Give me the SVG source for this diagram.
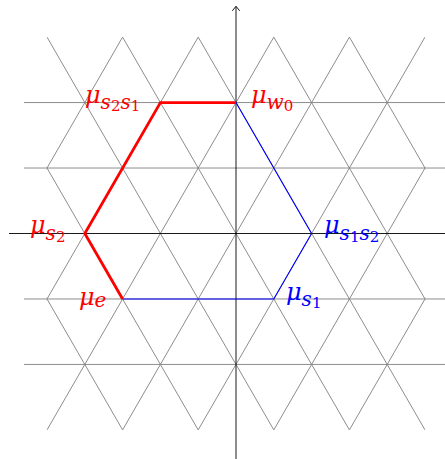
<svg xmlns="http://www.w3.org/2000/svg" width="445" height="459" viewBox="0 0 445 459">
<style>
.grid{stroke:#808080;stroke-width:0.9;fill:none}
.axis{stroke:#000;stroke-width:0.9;fill:none}
.red{fill:#ff0000}
.blue{fill:#0000ff}
.lbl{font-family:"DejaVu Serif","Liberation Serif",serif;font-style:italic}
.mu{font-size:24px}
.sub{font-size:20px;font-style:italic}
.dig{font-size:15px;font-style:normal}
</style>
<defs>
<clipPath id="lat"><rect x="46.8" y="36" width="378.4" height="395"/></clipPath>
</defs>
<g id="lattice">
<g clip-path="url(#lat)">
<path class="grid" d="M-104.2,37.1L122.6,429.9M-28.6,37.1L198.2,429.9M47,37.1L273.8,429.9M122.6,37.1L349.4,429.9M198.2,37.1L425,429.9M273.8,37.1L500.6,429.9M349.4,37.1L576.2,429.9"/>
<path class="grid" d="M122.6,37.1L-104.2,429.9M198.2,37.1L-28.6,429.9M273.8,37.1L47,429.9M349.4,37.1L122.6,429.9M425,37.1L198.2,429.9M500.6,37.1L273.8,429.9M576.2,37.1L349.4,429.9"/>
</g>
<path class="grid" d="M24,102.56H448M24,168.03H448M24,298.97H448M24,364.44H448"/>
</g>
<g id="axes">
<path class="axis" d="M9,233.5H448"/>
<path class="axis" d="M236,462V6.5"/>
<path class="axis" d="M232.3,10.8L236,6.3L239.7,10.8"/>
</g>
<g id="connectors">
<path d="M236,102.56L311.6,233.5L273.8,298.97L122.6,298.97" fill="none" stroke="#0000ff" stroke-width="1.1"/>
<path d="M122.6,298.97L84.8,233.5L160.4,102.56L236,102.56" fill="none" stroke="#ff0000" stroke-width="2.8"/>
</g>
<g id="node-s2s1"><text class="lbl red" x="85" y="102.5"><tspan class="mu">μ</tspan><tspan class="sub" dy="6">s</tspan><tspan class="dig" dy="2">2</tspan><tspan class="sub" dy="-2">s</tspan><tspan class="dig" dy="2">1</tspan></text></g>
<g id="node-w0"><text class="lbl red" x="251" y="103"><tspan class="mu">μ</tspan><tspan class="sub" dy="6">w</tspan><tspan class="dig" dy="2">0</tspan></text></g>
<g id="node-s2"><text class="lbl red" x="30" y="232.5"><tspan class="mu">μ</tspan><tspan class="sub" dy="7">s</tspan><tspan class="dig" dy="2">2</tspan></text></g>
<g id="node-e"><text class="lbl red" x="79" y="305"><tspan class="mu">μ</tspan><tspan class="sub" dy="2">e</tspan></text></g>
<g id="node-s1"><text class="lbl blue" x="286" y="300"><tspan class="mu">μ</tspan><tspan class="sub" dy="6">s</tspan><tspan class="dig" dy="2">1</tspan></text></g>
<g id="node-s1s2"><text class="lbl blue" x="324" y="233"><tspan class="mu">μ</tspan><tspan class="sub" dy="7">s</tspan><tspan class="dig" dy="2">1</tspan><tspan class="sub" dy="-2">s</tspan><tspan class="dig" dy="2">2</tspan></text></g>
</svg>
